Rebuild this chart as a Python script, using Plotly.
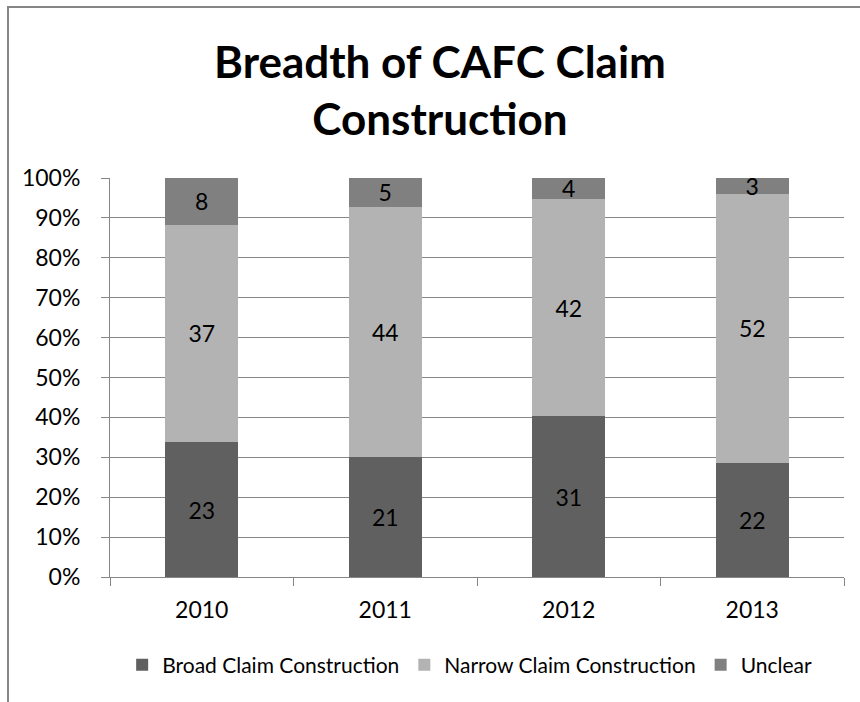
import plotly.graph_objects as go

years = ["2010", "2011", "2012", "2013"]
broad = [23, 21, 31, 22]
narrow = [37, 44, 42, 52]
unclear = [8, 5, 4, 3]
y_ticks = [0, 10, 20, 30, 40, 50, 60, 70, 80, 90, 100]
y_tick_labels = [f"{v}%" for v in y_ticks]

FONT = "Lato, 'Open Sans', sans-serif"
W, H = 860, 702
L, R, T, B = 110, 16, 178, 125

series = [
    ("Broad Claim Construction", broad, "#606060"),
    ("Narrow Claim Construction", narrow, "#b3b3b3"),
    ("Unclear", unclear, "#808080"),
]

fig = go.Figure()
for name, vals, col in series:
    fig.add_trace(go.Bar(
        x=years, y=vals, name=name,
        marker=dict(color=col, line=dict(width=0)),
        text=[str(v) for v in vals],
        texttemplate="%{text}",
        textposition="inside",
        insidetextanchor="middle",
        constraintext="none",
        textangle=0,
        textfont=dict(family=FONT, size=23, color="#000000"),
        hoverinfo="skip",
    ))

pw = W - L - R
ph = H - T - B
fig.update_layout(
    width=W, height=H,
    barmode="stack", barnorm="percent", bargap=0.6,
    paper_bgcolor="white", plot_bgcolor="white",
    margin=dict(l=L, r=R, t=T, b=B, autoexpand=False),
    font=dict(family=FONT, size=23, color="#000000"),
    title=dict(
        text="<b>Breadth of CAFC Claim<br>Construction</b>",
        font=dict(family=FONT, size=44, color="#000000"),
        x=440 / W, xanchor="center",
        y=1 - 78 / H, yanchor="top", yref="container",
    ),
    legend=dict(
        orientation="h", x=0.49, xanchor="center",
        y=-(665 - (H - B)) / ph, yanchor="middle",
        font=dict(family=FONT, size=21, color="#000000"),
        itemwidth=30, traceorder="normal",
    ),
    xaxis=dict(
        type="category", tickson="boundaries",
        ticks="outside", ticklen=8, tickcolor="#868686", tickwidth=1,
        showline=True, linecolor="#868686", linewidth=1,
        showgrid=False, ticklabelstandoff=12,
        tickfont=dict(family=FONT, size=23, color="#000000"),
    ),
    yaxis=dict(
        range=[0, 100], tickvals=y_ticks, ticktext=y_tick_labels,
        ticks="outside", ticklen=8, tickcolor="#868686", tickwidth=1,
        showline=True, linecolor="#868686", linewidth=1,
        showgrid=True, gridcolor="#868686", gridwidth=1,
        zeroline=False, ticklabelstandoff=16,
        tickfont=dict(family=FONT, size=23, color="#000000"),
    ),
    shapes=[dict(
        type="rect", xref="paper", yref="paper",
        x0=(8 - L) / pw, x1=(900 - L) / pw,
        y0=-(760 - (H - B)) / ph, y1=((H - B) - 7) / ph,
        line=dict(color="#868686", width=2), fillcolor="rgba(0,0,0,0)",
        layer="below",
    )],
)

fig.write_html(
    "out.html",
    config={"displayModeBar": False},
    post_script="document.body.style.margin='0';document.body.style.overflow='hidden';",
)
